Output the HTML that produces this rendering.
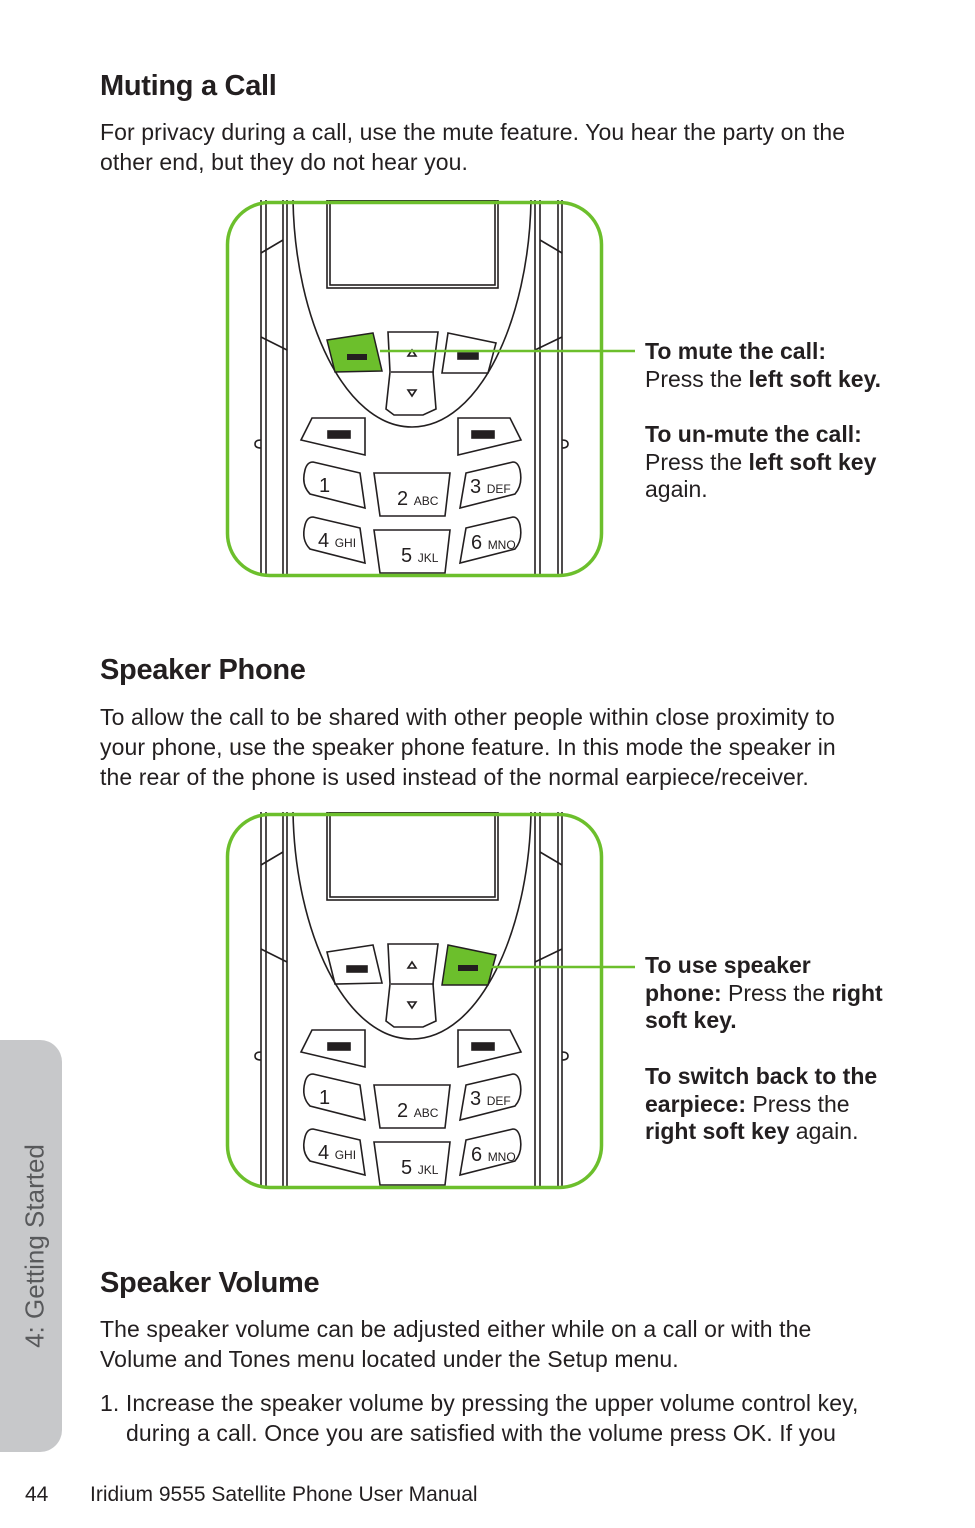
<!DOCTYPE html>
<html><head><meta charset="utf-8"><style>
body{margin:0;width:975px;height:1528px;background:#fff;position:relative;font-family:"Liberation Sans",sans-serif;color:#231f20;overflow:hidden}
.t{position:absolute;white-space:nowrap}
h2{position:absolute;margin:0;font-size:29px;font-weight:bold;left:100px;letter-spacing:-0.3px}
.p{position:absolute;left:100px;font-size:23px;line-height:30px;letter-spacing:0.1px;white-space:nowrap}
.c{position:absolute;left:645px;font-size:23px;line-height:27.5px;letter-spacing:0px;white-space:nowrap}
svg{position:absolute}
</style></head><body>
<h2 style="top:70px">Muting a Call</h2>
<div class="p" style="top:117px">For privacy during a call, use the mute feature. You hear the party on the<br>other end, but they do not hear you.</div>

<svg style="left:225px;top:200px" width="420" height="380" viewBox="0 0 420 380">
<g fill="none" stroke="#231f20" stroke-width="1.6">
<path d="M36 0V376M41 0V376M58 0V376M62 0V376M310 0V376M315 0V376M333 0V376M337 0V376"/>
<path d="M36 53L58 40M36 137L62 150M337 53L315 40M337 137L310 150"/>
<path d="M68 0C70 120 120 227 187 227C254 227 304 120 306 0"/>
<rect x="102" y="0" width="171" height="88"/><rect x="105" y="0" width="165" height="85"/>
<path d="M163 132H213L208 172L211 209L198 215H169L161 209L165 172Z"/><path d="M166 172H209"/>
<path d="M183 156l4-6 4 6z M183 190l4 6 4-6z"/>
<path d="M223 133L271 143L263 173L217 173Z"/><rect x="233" y="153" width="20" height="6" fill="#231f20"/>
<path d="M87 218H140V255L76 240Z"/><rect x="103" y="231" width="22" height="7" fill="#231f20"/>
<path d="M233 218H285L296 240L233 255Z"/><rect x="247" y="231" width="22" height="7" fill="#231f20"/>
<path d="M88 262L135 273L140 308L85 294Q76 285 80 270Q82 262 88 262Z"/>
<path d="M149 273H225L220 316H155Z"/>
<path d="M288 262L241 273L235 308L290 294Q298 285 295 270Q293 262 288 262Z"/>
<path d="M88 317L135 328L140 363L85 349Q76 340 80 325Q82 317 88 317Z"/>
<path d="M149 330H225L220 373H155Z"/>
<path d="M288 317L241 328L235 363L290 349Q298 340 295 325Q293 317 288 317Z"/>
<path d="M36 240q-6 0 -6 4q0 4 6 4"/><path d="M337 240q6 0 6 4q0 4 -6 4"/>
</g>
<path d="M102 140L148 133L157 171L110 172Z" fill="#6cbf2c" stroke="#231f20" stroke-width="1.5"/>
<rect x="122" y="154" width="20" height="6" fill="#231f20"/>
<g font-family="Liberation Sans Narrow,Liberation Sans,sans-serif" fill="#231f20">
<text x="94" y="292" font-size="20">1</text>
<text x="172" y="305" font-size="20">2 <tspan font-size="12">ABC</tspan></text>
<text x="245" y="293" font-size="20">3 <tspan font-size="12">DEF</tspan></text>
<text x="93" y="347" font-size="20">4 <tspan font-size="12">GHI</tspan></text>
<text x="176" y="362" font-size="20">5 <tspan font-size="12">JKL</tspan></text>
<text x="246" y="349" font-size="20">6 <tspan font-size="12">MNO</tspan></text>
</g>
<rect x="2.5" y="2.5" width="374" height="373" rx="42" fill="none" stroke="#6cbf2c" stroke-width="3.5"/>
<path d="M155 151H410" stroke="#6cbf2c" stroke-width="2.5"/>
</svg>

<div class="c" style="top:338px"><b>To mute the call:</b><br>Press the <b>left soft key.</b></div>
<div class="c" style="top:421px"><b>To un-mute the call:</b><br>Press the <b>left soft key</b><br>again.</div>

<h2 style="top:654px">Speaker Phone</h2>
<div class="p" style="top:702px">To allow the call to be shared with other people within close proximity to<br>your phone, use the speaker phone feature. In this mode the speaker in<br>the rear of the phone is used instead of the normal earpiece/receiver.</div>

<svg style="left:225px;top:812px" width="420" height="380" viewBox="0 0 420 380">
<g fill="none" stroke="#231f20" stroke-width="1.6">
<path d="M36 0V376M41 0V376M58 0V376M62 0V376M310 0V376M315 0V376M333 0V376M337 0V376"/>
<path d="M36 53L58 40M36 137L62 150M337 53L315 40M337 137L310 150"/>
<path d="M68 0C70 120 120 227 187 227C254 227 304 120 306 0"/>
<rect x="102" y="0" width="171" height="88"/><rect x="105" y="0" width="165" height="85"/>
<path d="M163 132H213L208 172L211 209L198 215H169L161 209L165 172Z"/><path d="M166 172H209"/>
<path d="M183 156l4-6 4 6z M183 190l4 6 4-6z"/>
<path d="M102 140L148 133L157 171L110 172Z"/><rect x="122" y="154" width="20" height="6" fill="#231f20"/>
<path d="M87 218H140V255L76 240Z"/><rect x="103" y="231" width="22" height="7" fill="#231f20"/>
<path d="M233 218H285L296 240L233 255Z"/><rect x="247" y="231" width="22" height="7" fill="#231f20"/>
<path d="M88 262L135 273L140 308L85 294Q76 285 80 270Q82 262 88 262Z"/>
<path d="M149 273H225L220 316H155Z"/>
<path d="M288 262L241 273L235 308L290 294Q298 285 295 270Q293 262 288 262Z"/>
<path d="M88 317L135 328L140 363L85 349Q76 340 80 325Q82 317 88 317Z"/>
<path d="M149 330H225L220 373H155Z"/>
<path d="M288 317L241 328L235 363L290 349Q298 340 295 325Q293 317 288 317Z"/>
<path d="M36 240q-6 0 -6 4q0 4 6 4"/><path d="M337 240q6 0 6 4q0 4 -6 4"/>
</g>
<path d="M223 133L271 143L263 173L217 173Z" fill="#6cbf2c" stroke="#231f20" stroke-width="1.5"/>
<rect x="233" y="153" width="20" height="6" fill="#231f20"/>
<g font-family="Liberation Sans Narrow,Liberation Sans,sans-serif" fill="#231f20">
<text x="94" y="292" font-size="20">1</text>
<text x="172" y="305" font-size="20">2 <tspan font-size="12">ABC</tspan></text>
<text x="245" y="293" font-size="20">3 <tspan font-size="12">DEF</tspan></text>
<text x="93" y="347" font-size="20">4 <tspan font-size="12">GHI</tspan></text>
<text x="176" y="362" font-size="20">5 <tspan font-size="12">JKL</tspan></text>
<text x="246" y="349" font-size="20">6 <tspan font-size="12">MNO</tspan></text>
</g>
<rect x="2.5" y="2.5" width="374" height="373" rx="42" fill="none" stroke="#6cbf2c" stroke-width="3.5"/>
<path d="M262 155H410" stroke="#6cbf2c" stroke-width="2.5"/>
</svg>

<div class="c" style="top:952px"><b>To use speaker</b><br><b>phone:</b> Press the <b>right</b><br><b>soft key.</b></div>
<div class="c" style="top:1063px"><b>To switch back to the</b><br><b>earpiece:</b> Press the<br><b>right soft key</b> again.</div>

<div style="position:absolute;left:0;top:1040px;width:62px;height:412px;background:#c7c8ca;border-radius:0 22px 22px 0"></div>
<div class="t" style="left:35px;top:1246px;transform:translate(-50%,-50%) rotate(-90deg);font-size:26px;color:#58595b">4: Getting Started</div>

<h2 style="top:1267px">Speaker Volume</h2>
<div class="p" style="top:1314px">The speaker volume can be adjusted either while on a call or with the<br>Volume and Tones menu located under the Setup menu.</div>
<div class="p" style="top:1388px">1. Increase the speaker volume by pressing the upper volume control key,<br>&nbsp;&nbsp;&nbsp;&nbsp;during a call. Once you are satisfied with the volume press OK. If you</div>

<div class="t" style="left:25px;top:1483px;font-size:21px">44</div>
<div class="t" style="left:90px;top:1483px;font-size:21px">Iridium 9555 Satellite Phone User Manual</div>
</body></html>
